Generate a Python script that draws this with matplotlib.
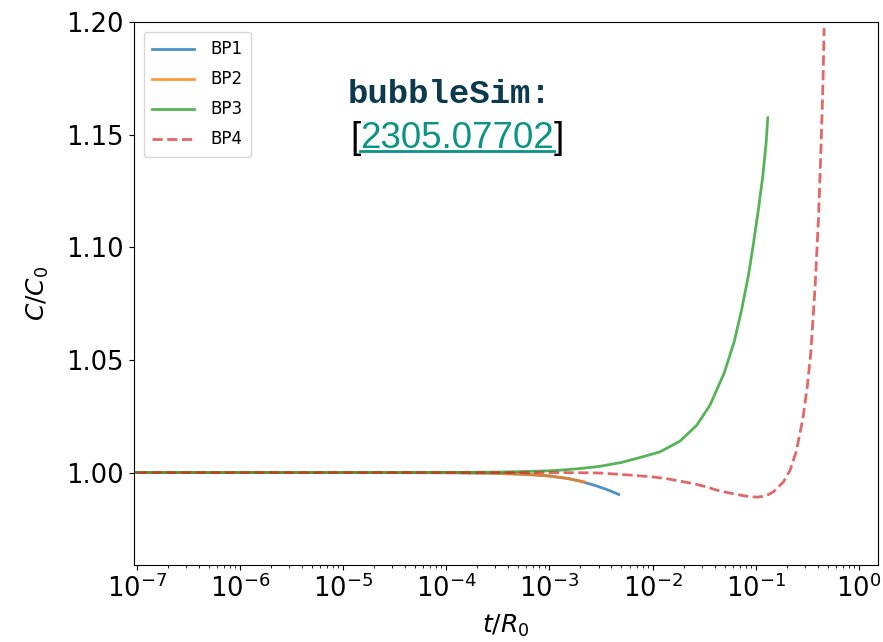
import numpy as np
import matplotlib.pyplot as plt

# sound speed evolution for the four benchmark points
t_bp1 = [1e-7, 1e-6, 1e-5, 1e-4, 3e-4, 6e-4, 1e-3, 1.5e-3, 2e-3, 2.9e-3, 3.8e-3, 4.7e-3]
c_bp1 = [1.0, 1.0, 1.0, 0.99995, 0.9997, 0.9992, 0.9985, 0.9974, 0.9962, 0.9940, 0.9921, 0.9903]

t_bp2 = [1e-7, 1e-6, 1e-5, 1e-4, 3e-4, 6e-4, 1e-3, 1.5e-3, 2.2e-3]
c_bp2 = [1.0, 1.0, 1.0, 0.99995, 0.9997, 0.9992, 0.9985, 0.9974, 0.9958]

t_bp3 = [1e-7, 1e-6, 1e-5, 1e-4, 3e-4, 6e-4, 1e-3, 1.3e-3, 2e-3, 3e-3, 5e-3, 8e-3,
         0.01183, 0.0185, 0.0268, 0.0361, 0.0493, 0.0617, 0.0733, 0.0849, 0.0950,
         0.1062, 0.1172, 0.1262, 0.1309]
c_bp3 = [1.0, 1.0, 1.0, 1.00007, 1.0002, 1.0005, 1.0008, 1.0011, 1.0018, 1.0027, 1.0045, 1.0070,
         1.0092, 1.0140, 1.0210, 1.0300, 1.0440, 1.0579, 1.0726, 1.0874, 1.1015,
         1.1169, 1.1316, 1.1464, 1.1575]

t_bp4 = [1e-7, 1e-6, 1e-5, 1e-4, 1e-3, 2e-3, 3.1e-3, 4.5e-3, 6.5e-3, 0.01, 0.0137, 0.0185,
         0.0249, 0.033, 0.042, 0.055, 0.0707, 0.085, 0.1026, 0.12, 0.135, 0.1486, 0.1603,
         0.1858, 0.2158, 0.2466, 0.2864, 0.317, 0.342, 0.3767, 0.4055, 0.4276,
         0.4477, 0.4603]
c_bp4 = [1.0, 1.0, 1.0, 1.0, 1.0, 0.99995, 0.9998, 0.9993, 0.9988, 0.9981, 0.9973, 0.9962,
         0.9951, 0.9937, 0.9922, 0.9910, 0.9900, 0.9894, 0.9891, 0.9895, 0.9904, 0.9915, 0.9929,
         0.9959, 1.0012, 1.0092, 1.0239, 1.0387, 1.0534, 1.0829, 1.1125, 1.1420,
         1.1715, 1.1973]

fig = plt.figure(figsize=(8.83, 6.42), dpi=100)
ax = fig.add_axes([0.1512, 0.12, 0.843, 0.8457])

ax.plot(t_bp1, c_bp1, color='tab:blue', lw=2, alpha=0.8, label='BP1')
ax.plot(t_bp2, c_bp2, color='tab:orange', lw=2, alpha=0.8, label='BP2')
ax.plot(t_bp3, c_bp3, color='tab:green', lw=2, alpha=0.8, label='BP3')
ax.plot(t_bp4, c_bp4, color='tab:red', lw=2, alpha=0.7, ls='--', label='BP4')

ax.set_xscale('log')
ax.set_xlim(10**-7.03, 10**0.184)
ax.set_ylim(0.959, 1.20)
ax.set_yticks([1.00, 1.05, 1.10, 1.15, 1.20])
ax.tick_params(labelsize=18.5)
ax.set_xlabel('$t/R_0$', fontsize=18, labelpad=7)
ax.set_ylabel('$C/C_0$', fontsize=18, labelpad=11)

ax.legend(loc='upper left', fontsize=12, handlelength=2.5, handletextpad=1.0,
          labelspacing=0.72, borderpad=0.5, borderaxespad=0.6)

# reference tag
fig.text(348 / 883, 1 - 103 / 642, 'bubbleSim:', fontsize=24.5, family='Liberation Mono',
         weight='bold', color='#0b3a4f', ha='left', va='baseline')

fig.canvas.draw()
renderer = fig.canvas.get_renderer()
x0 = 350 / 883
yb = 1 - 148 / 642
lb = fig.text(x0, yb, '[', fontsize=26.5, family='Liberation Sans', color='black',
              ha='left', va='baseline')
bb = lb.get_window_extent(renderer).transformed(fig.transFigure.inverted())
num = fig.text(bb.x1, yb, '2305.07702', fontsize=26.5, family='Liberation Sans',
               color='#0a9482', ha='left', va='baseline')
bn = num.get_window_extent(renderer).transformed(fig.transFigure.inverted())
fig.text(bn.x1, yb, ']', fontsize=26.5, family='Liberation Sans', color='black',
         ha='left', va='baseline')
uy = yb - 3 / 642
fig.add_artist(plt.Line2D([bn.x0, bn.x1], [uy, uy], color='#0a9482', lw=2,
                          transform=fig.transFigure))

fig.savefig('out.png', dpi=100)
